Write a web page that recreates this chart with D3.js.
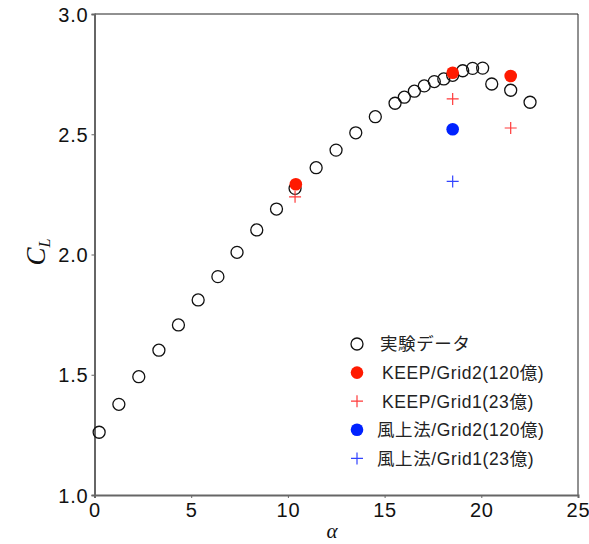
<!DOCTYPE html>
<html>
<head>
<meta charset="utf-8">
<script src="https://cdn.jsdelivr.net/npm/d3@7"></script>
<style>
  body { margin: 0; background: #fff; }
  svg { display: block; }
  text { font-family: "Liberation Sans", Arial, "Noto Sans CJK JP", sans-serif; }
</style>
</head>
<body>
<svg id="chart" width="589" height="544"></svg>
<script>
// Experimental data (circles)
const expAlpha = [0.24, 1.26, 2.29, 3.33, 4.34, 5.36, 6.38, 7.37, 8.39, 9.41, 10.37, 11.46, 12.49, 13.51, 14.52, 15.54, 16.02, 16.54, 17.05, 17.57, 18.06, 18.52, 19.04, 19.55, 20.07, 20.54, 21.52, 22.52];
const expCL    = [1.261, 1.377, 1.492, 1.602, 1.707, 1.811, 1.908, 2.009, 2.102, 2.189, 2.275, 2.361, 2.434, 2.506, 2.573, 2.629, 2.654, 2.679, 2.701, 2.719, 2.730, 2.745, 2.764, 2.774, 2.775, 2.709, 2.683, 2.633];
// KEEP / Grid2 (120億)
const keep2Alpha = [10.41, 18.52, 21.52];
const keep2CL    = [2.292, 2.756, 2.742];
// KEEP / Grid1 (23億)
const keep1Alpha = [10.37, 18.52, 21.52];
const keep1CL    = [2.240, 2.647, 2.526];
// 風上法 / Grid2 (120億)
const up2Alpha = [18.52];
const up2CL    = [2.521];
// 風上法 / Grid1 (23億)
const up1Alpha = [18.52];
const up1CL    = [2.304];

const xTicks = [0, 5, 10, 15, 20, 25];
const yTicks = [1.0, 1.5, 2.0, 2.5, 3.0];
const legendLabels = ["実験データ", "KEEP/Grid2(120億)", "KEEP/Grid1(23億)", "風上法/Grid2(120億)", "風上法/Grid1(23億)"];

const svg = d3.select("#chart");
const L = 94.5, R = 578, T = 14, B = 495;
const x = d3.scaleLinear().domain([0, 25]).range([L, R]);
const y = d3.scaleLinear().domain([1.0, 3.0]).range([B, T]);

// frame top/right
svg.append("line").attr("x1", L).attr("x2", R).attr("y1", T).attr("y2", T).attr("stroke", "#222").attr("stroke-width", 1);
svg.append("line").attr("x1", R).attr("x2", R).attr("y1", T).attr("y2", B).attr("stroke", "#222").attr("stroke-width", 1);

// axes
const xAxis = d3.axisBottom(x).tickValues(xTicks).tickSize(3).tickPadding(4).tickFormat(d3.format("d"));
const yAxis = d3.axisLeft(y).tickValues(yTicks).tickSize(3).tickPadding(3).tickFormat(d3.format(".1f"));

const gx = svg.append("g").attr("transform", `translate(0,${B})`).call(xAxis);
const gy = svg.append("g").attr("transform", `translate(${L},0)`).call(yAxis);
[gx, gy].forEach(g => {
  g.select(".domain").attr("stroke", "#666").attr("stroke-width", 2);
  g.selectAll(".tick line").attr("stroke", "#666");
  g.selectAll(".tick text").attr("fill", "#111").style("font-size", "20px").style("letter-spacing", "0.8px");
});
gx.selectAll(".tick text").attr("dy", "0.75em");
gy.selectAll(".tick text").attr("dy", "0.36em");

// axis labels
const yl = svg.append("text")
  .attr("transform", "translate(45,252) rotate(-90)")
  .attr("text-anchor", "middle")
  .style("font-family", "'Liberation Serif', 'DejaVu Serif', serif")
  .style("font-style", "italic")
  .attr("fill", "#111");
yl.append("tspan").style("font-size", "27px").text("C");
yl.append("tspan").style("font-size", "16px").attr("dy", "5").text("L");

svg.append("text")
  .attr("x", 332).attr("y", 538)
  .attr("text-anchor", "middle")
  .style("font-family", "'Liberation Serif', 'DejaVu Serif', serif")
  .style("font-style", "italic")
  .style("font-size", "21px")
  .attr("fill", "#111")
  .text("α");

const red = "#ff1a00", redPlus = "#ff3a3a", blue = "#0022ff", bluePlus = "#3344ff";
const zip = (a, b) => a.map((v, i) => [v, b[i]]);

function plus(g, data, color) {
  const s = 6;
  g.selectAll(null).data(data).enter().append("path")
    .attr("d", d => `M${x(d[0]) - s},${y(d[1])}H${x(d[0]) + s}M${x(d[0])},${y(d[1]) - s}V${y(d[1]) + s}`)
    .attr("stroke", color).attr("stroke-width", 1.2).attr("fill", "none");
}

const plot = svg.append("g");
plot.selectAll(null).data(zip(expAlpha, expCL)).enter().append("circle")
  .attr("cx", d => x(d[0])).attr("cy", d => y(d[1])).attr("r", 6)
  .attr("fill", "none").attr("stroke", "#111").attr("stroke-width", 1.3);
plot.selectAll(null).data(zip(keep2Alpha, keep2CL)).enter().append("circle")
  .attr("cx", d => x(d[0])).attr("cy", d => y(d[1])).attr("r", 6.3)
  .attr("fill", red);
plus(plot, zip(keep1Alpha, keep1CL), redPlus);
plot.selectAll(null).data(zip(up2Alpha, up2CL)).enter().append("circle")
  .attr("cx", d => x(d[0])).attr("cy", d => y(d[1])).attr("r", 6.3)
  .attr("fill", blue);
plus(plot, zip(up1Alpha, up1CL), bluePlus);

// legend
const lg = svg.append("g");
const lx = 357, ly0 = 344, ldy = 28.6;
const types = ["open", "dot", "plus", "dot", "plus"];
const colors = ["#111", red, redPlus, blue, bluePlus];
const textX = [380, 382, 382, 377, 377];
legendLabels.forEach((lab, i) => {
  const cy = ly0 + i * ldy;
  if (types[i] === "open") {
    lg.append("circle").attr("cx", lx).attr("cy", cy).attr("r", 6).attr("fill", "none").attr("stroke", "#111").attr("stroke-width", 1.3);
  } else if (types[i] === "dot") {
    lg.append("circle").attr("cx", lx).attr("cy", cy).attr("r", 6.3).attr("fill", colors[i]);
  } else {
    lg.append("path").attr("d", `M${lx - 6},${cy}H${lx + 6}M${lx},${cy - 6}V${cy + 6}`).attr("stroke", colors[i]).attr("stroke-width", 1.2);
  }
  lg.append("text").attr("x", textX[i]).attr("y", cy).attr("dy", "0.36em")
    .style("font-size", "17.5px").style("letter-spacing", "0.6px").attr("fill", "#222").text(lab);
});
</script>
</body>
</html>
